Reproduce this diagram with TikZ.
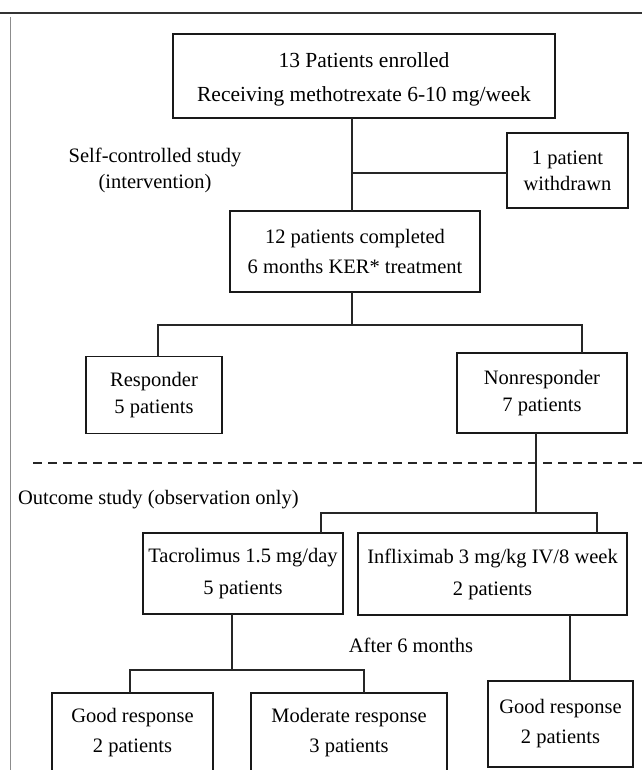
\documentclass[tikz,border=0pt]{standalone}
\usepackage{fontspec}
\setmainfont{Liberation Serif}
\begin{document}
\begin{tikzpicture}[x=1pt,y=-1pt,
  every node/.style={inner sep=0pt,outer sep=0pt},
  box/.style={draw=black!90,line width=1.3pt,align=center,font=\fontsize{20.5}{30}\selectfont},
  lbl/.style={align=center,font=\fontsize{20.5}{26}\selectfont},
  conn/.style={draw=black!85,line width=1.2pt}]
\useasboundingbox (0,0) rectangle (642,770);
\fill[white] (0,0) rectangle (642,770);
% frame remnants
\draw[black!80,line width=1.8pt] (0,13) -- (642,13);
\draw[black!45,line width=0.8pt] (10,17) -- (10,770);
% nodes
\node[box,minimum width=382pt,minimum height=84pt,text depth=0pt,font=\fontsize{21.5}{30}\selectfont] (b1) at (364,76) {\raisebox{-3pt}{13 Patients enrolled}\\[4pt]\raisebox{-3pt}{Receiving methotrexate 6-10 mg/week}};
\node[box,minimum width=121pt,minimum height=75pt,font=\fontsize{20.5}{26}\selectfont] (wd) at (567.5,170.5) {1 patient\\withdrawn};
\node[lbl] (sc) at (155,170) {Self-controlled study\\(intervention)};
\node[box,minimum width=250pt,minimum height=81pt] (b2) at (355,251.5) {12 patients completed\\6 months KER* treatment};
\node[box,minimum width=136pt,minimum height=77pt,font=\fontsize{20.5}{27}\selectfont] (resp) at (154,395) {Responder\\5 patients};
\node[box,minimum width=170pt,minimum height=80pt,font=\fontsize{20.5}{27}\selectfont] (nonr) at (542,393) {Nonresponder\\7 patients};
\node[lbl,anchor=west] (os) at (18,500) {Outcome study (observation only)};
\node[box,minimum width=200pt,minimum height=81pt,font=\fontsize{20.5}{32}\selectfont] (tac) at (243,573.5) {Tacrolimus 1.5 mg/day\\5 patients};
\node[box,minimum width=269pt,minimum height=82pt,font=\fontsize{20.5}{32}\selectfont] (inf) at (492.5,574) {Infliximab 3 mg/kg IV/8 week\\2 patients};
\node[lbl] (a6) at (411,645) {After 6 months};
\node[box,minimum width=161pt,minimum height=79pt] (g1) at (132.5,732.5) {Good response\\2 patients};
\node[box,minimum width=196pt,minimum height=79pt] (mod) at (349,732.5) {Moderate response\\3 patients};
\node[box,minimum width=145pt,minimum height=86pt] (g2) at (560.5,724) {Good response\\2 patients};
% junction coordinates
\coordinate (j1) at (352,173);
\coordinate (j2) at (352,325);
\coordinate (r1) at (158,325);
\coordinate (r2) at (582,325);
\coordinate (j3) at (536,513);
\coordinate (t1) at (321,513);
\coordinate (t2) at (597,513);
\coordinate (j4) at (232,670);
\coordinate (m1) at (130,670);
\coordinate (m2) at (364,670);
\coordinate (j5) at (570,650);
% connectors
\draw[conn] (b1.south -| j1) -- (b2.north -| j1);
\draw[conn] (j1) -- (wd.west |- j1);
\draw[conn] (b2.south -| j2) -- (j2);
\draw[conn] (resp.north -| r1) -- (r1) -- (r2) -- (nonr.north -| r2);
\draw[dashed,dash pattern=on 9pt off 6pt,line width=1.3pt,black!85] (33,463) -- (642,463);
\draw[conn] (nonr.south -| j3) -- (j3);
\draw[conn] (tac.north -| t1) -- (t1) -- (t2) -- (inf.north -| t2);
\draw[conn] (tac.south -| j4) -- (j4);
\draw[conn] (g1.north -| m1) -- (m1) -- (m2) -- (mod.north -| m2);
\draw[conn] (inf.south -| j5) -- (g2.north -| j5);
\end{tikzpicture}
\end{document}
